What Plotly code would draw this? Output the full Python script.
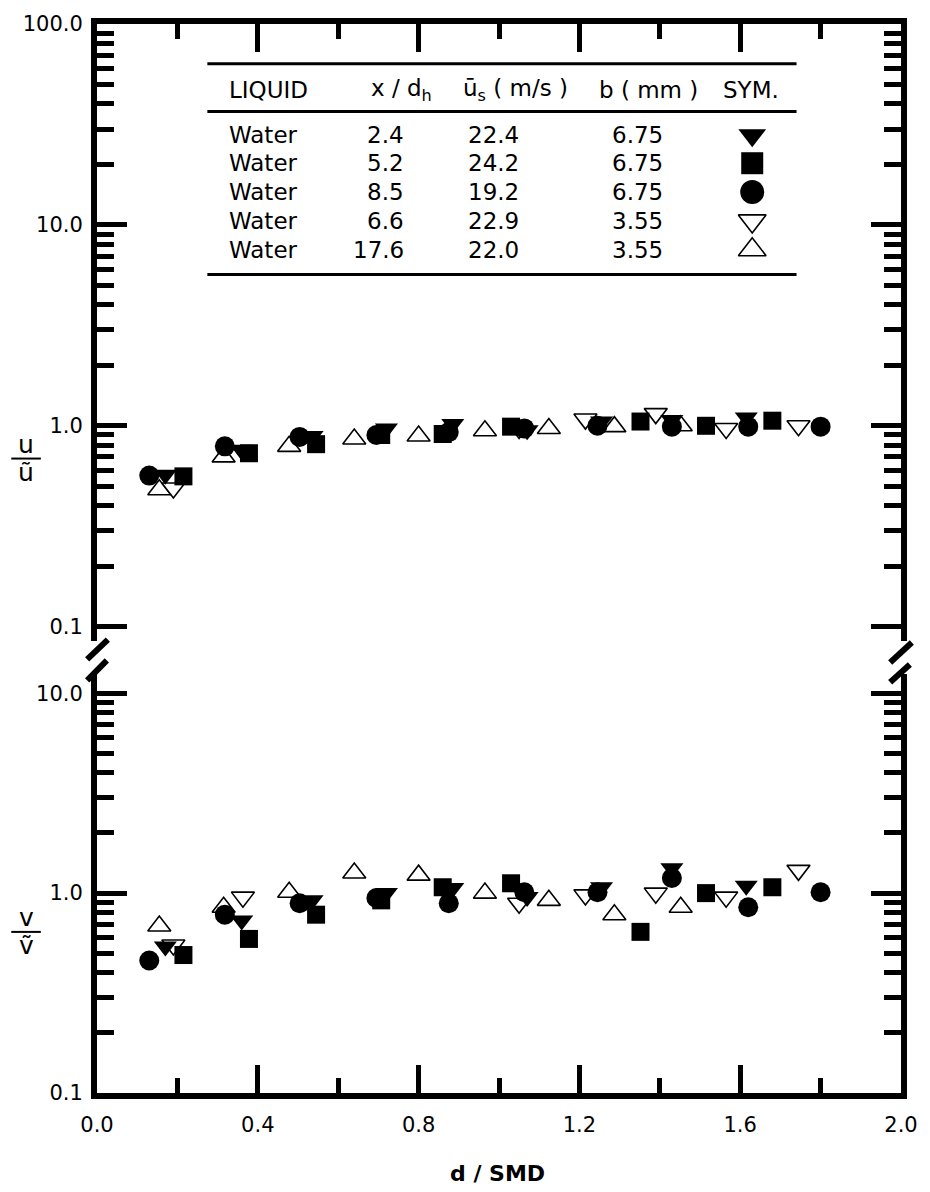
import plotly.graph_objects as go

# ---------------- data ----------------
# series 1: x/dh = 2.4  (filled down-triangle)
d_s1 = [0.17, 0.36, 0.535, 0.72, 0.885, 1.07, 1.255, 1.43, 1.615]
u_s1 = [0.57, 0.76, 0.89, 0.97, 1.02, 0.95, 1.05, 1.07, 1.10]
v_s1 = [0.54, 0.73, 0.92, 1.00, 1.06, 0.955, 1.07, 1.33, 1.09]
# series 2: x/dh = 5.2  (filled square)
d_s2 = [0.215, 0.378, 0.545, 0.707, 0.86, 1.03, 1.352, 1.515, 1.68]
u_s2 = [0.56, 0.73, 0.81, 0.90, 0.91, 0.99, 1.05, 1.00, 1.06]
v_s2 = [0.49, 0.59, 0.78, 0.92, 1.07, 1.12, 0.64, 1.00, 1.07]
# series 3: x/dh = 8.5  (filled circle)
d_s3 = [0.13, 0.318, 0.504, 0.695, 0.875, 1.063, 1.245, 1.43, 1.62, 1.80]
u_s3 = [0.565, 0.79, 0.88, 0.90, 0.93, 0.97, 1.00, 0.99, 0.99, 0.99]
v_s3 = [0.46, 0.78, 0.89, 0.945, 0.89, 1.01, 1.01, 1.19, 0.85, 1.01]
# series 4: x/dh = 6.6  (open down-triangle)
d_s4 = [0.19, 0.363, 1.05, 1.215, 1.39, 1.565, 1.745]
u_s4 = [0.49, 0.75, 0.97, 1.08, 1.15, 0.97, 1.00]
v_s4 = [0.55, 0.955, 0.89, 0.98, 1.00, 0.955, 1.30]
# series 5: x/dh = 17.6 (open up-triangle)
d_s5 = [0.155, 0.315, 0.478, 0.64, 0.80, 0.965, 1.124, 1.287, 1.452]
u_s5 = [0.48, 0.70, 0.79, 0.86, 0.89, 0.945, 0.97, 0.99, 1.00]
v_s5 = [0.685, 0.85, 1.01, 1.26, 1.23, 1.00, 0.92, 0.78, 0.85]

# table contents
tbl_liquid = ["Water", "Water", "Water", "Water", "Water"]
tbl_xdh = ["2.4", "5.2", "8.5", "6.6", "17.6"]
tbl_us = ["22.4", "24.2", "19.2", "22.9", "22.0"]
tbl_b = ["6.75", "6.75", "6.75", "3.55", "3.55"]

x_ticks = [0.0, 0.4, 0.8, 1.2, 1.6, 2.0]
x_minor = [0.2, 0.6, 1.0, 1.4, 1.8]
yu_ticks = [0.1, 1, 10, 100]
yu_text = ["0.1", "1.0", "10.0", "100.0"]
yv_ticks = [0.1, 1, 10]
yv_text = ["0.1", "1.0", "10.0"]
y_minor = [m * 10.0 ** e for e in (-1, 0, 1) for m in range(2, 10)]

# ---------------- layout geometry (pixels) ----------------
W, H = 930, 1192
L, R, T, B = 97, 913, 18, 1093
UP_BOTTOM, LOW_TOP = 638, 672


def px(x):
    return (x - L) / (R - L)


def py(y):
    return (B - y) / (B - T)


FONT = "DejaVu Sans"
BLACK = "black"

# styles per series: symbol, size, fill
styles = [
    ("triangle-up", 20, "white"),      # 17.6 open
    ("triangle-down", 20, "white"),    # 6.6 open
    ("square", 18, BLACK),             # 5.2
    ("circle", 20, BLACK),             # 8.5
    ("triangle-down", 20, BLACK),      # 2.4
]
series = [
    (d_s5, u_s5, v_s5),
    (d_s4, u_s4, v_s4),
    (d_s2, u_s2, v_s2),
    (d_s3, u_s3, v_s3),
    (d_s1, u_s1, v_s1),
]

fig = go.Figure()
for (sym, size, fill), (d, u, v) in zip(styles, series):
    mk = dict(symbol=sym, size=size, color=fill,
              line=dict(color=BLACK, width=1.6 if fill == "white" else 0))
    fig.add_trace(go.Scatter(x=d, y=u, mode="markers", marker=mk,
                             xaxis="x", yaxis="y", showlegend=False))
    fig.add_trace(go.Scatter(x=d, y=v, mode="markers", marker=mk,
                             xaxis="x", yaxis="y2", showlegend=False))

# empty trace so that the top frame axis (x2 on the upper panel) is drawn
fig.add_trace(go.Scatter(x=[], y=[], xaxis="x2", yaxis="y", showlegend=False))

# legend-table symbols (table order: 2.4, 5.2, 8.5, 6.6, 17.6)
rows_y = [130, 158, 187, 216, 245]
leg_styles = [
    ("triangle-down", 24, BLACK),
    ("square", 22, BLACK),
    ("circle", 24, BLACK),
    ("triangle-down", 24, "white"),
    ("triangle-up", 24, "white"),
]
for (sym, size, fill), ry in zip(leg_styles, rows_y):
    fig.add_trace(go.Scatter(
        x=[px(762)], y=[py(ry)], mode="markers", xaxis="x3", yaxis="y3",
        showlegend=False,
        marker=dict(symbol=sym, size=size, color=fill,
                    line=dict(color=BLACK, width=1.6 if fill == "white" else 0))))

tickfont = dict(family=FONT, size=21, color=BLACK)
common_x = dict(range=[0, 2], showline=True, linewidth=6, linecolor=BLACK,
                ticks="inside", ticklen=28, tickwidth=5, tickcolor=BLACK,
                tickvals=x_ticks, ticktext=[f"{t:.1f}" for t in x_ticks],
                minor=dict(tickvals=x_minor, ticks="inside", ticklen=15,
                           tickwidth=5, tickcolor=BLACK),
                showgrid=False, zeroline=False, tickfont=tickfont)
common_y = dict(type="log", showline=True, linewidth=6, linecolor=BLACK,
                mirror="ticks", ticks="inside", ticklen=30, tickwidth=5,
                tickcolor=BLACK,
                minor=dict(tickvals=y_minor, ticks="inside", ticklen=17,
                           tickwidth=5, tickcolor=BLACK),
                showgrid=False, zeroline=False, tickfont=tickfont,
                ticklabelstandoff=4)

fig.update_layout(
    width=W, height=H,
    margin=dict(l=L, r=W - R, t=T, b=H - B, pad=0),
    paper_bgcolor="white", plot_bgcolor="rgba(0,0,0,0)",
    xaxis=dict(domain=[0, 1], anchor="y2", ticklabelstandoff=8, **common_x),
    xaxis2=dict(domain=[0, 1], anchor="y", side="top", showticklabels=False,
                **common_x),
    yaxis=dict(domain=[py(UP_BOTTOM), 1], range=[-1.069, 2], anchor="x",
               tickvals=yu_ticks, ticktext=yu_text, **common_y),
    yaxis2=dict(domain=[0, py(LOW_TOP)], range=[-1, 1.0945], anchor="x",
                tickvals=yv_ticks, ticktext=yv_text, **common_y),
    xaxis3=dict(domain=[0, 1], range=[0, 1], anchor="y3", visible=False),
    yaxis3=dict(domain=[0, 1], range=[0, 1], anchor="x3", visible=False),
    showlegend=False,
)

shapes = []
# axis break slashes
for (x0, y0, x1, y1) in [(87, 657, 108, 637), (87, 678, 107, 658),
                         (902, 660, 924, 640), (902, 680, 922, 662)]:
    shapes.append(dict(type="line", xref="paper", yref="paper",
                       x0=px(x0), y0=py(y0), x1=px(x1), y1=py(y1),
                       line=dict(color=BLACK, width=6)))
# table rules
for yy in (58, 106, 270):
    shapes.append(dict(type="line", xref="paper", yref="paper",
                       x0=px(209), x1=px(807), y0=py(yy), y1=py(yy),
                       line=dict(color=BLACK, width=3)))
# y-axis label fraction bars
for yy in (455, 931):
    shapes.append(dict(type="line", xref="paper", yref="paper",
                       x0=px(10), x1=px(40), y0=py(yy), y1=py(yy),
                       line=dict(color=BLACK, width=2)))
fig.update_layout(shapes=shapes)

tf = dict(family=FONT, size=23, color=BLACK)
ann = []


def add_text(text, x, y, anchor="left", font=tf):
    ann.append(dict(text=text, x=px(x), y=py(y), xref="paper", yref="paper",
                    xanchor=anchor, yanchor="middle", showarrow=False,
                    font=font))


# table header
add_text("LIQUID", 229, 84)
add_text("x / d<sub>h</sub>", 373, 84)
add_text("ū<sub>s</sub> ( m/s )", 466, 84)
add_text("b ( mm )", 604, 84)
add_text("SYM.", 730, 84)
for i, ry in enumerate(rows_y):
    add_text(tbl_liquid[i], 229, ry)
    add_text(tbl_xdh[i], 411, ry, "right")
    add_text(tbl_us[i], 527, ry, "right")
    add_text(tbl_b[i], 673, ry, "right")

# axis titles
add_text("<b>d / SMD</b>", 503, 1174, "center",
         dict(family=FONT, size=22, color=BLACK))
lab = dict(family=FONT, size=25, color=BLACK)
add_text("u", 25, 441, "center", lab)
add_text("ũ", 25, 469, "center", lab)
add_text("v", 25, 917, "center", lab)
add_text("ṽ", 25, 945, "center", lab)

fig.update_layout(annotations=ann)

fig.write_html("out.html")
